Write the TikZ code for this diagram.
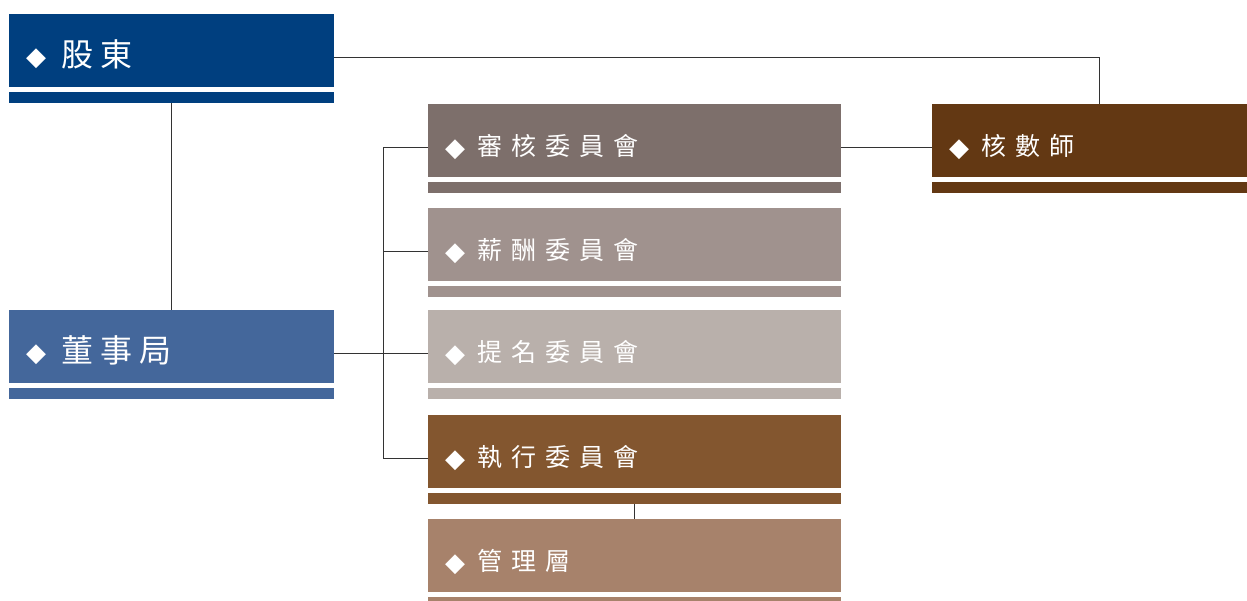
\documentclass[tikz,border=0pt]{standalone}
\usepackage{fontspec}
\newfontfamily\cjk{Noto Sans CJK TC}
\newfontfamily\symfont{DejaVu Sans}
\definecolor{shcol}{HTML}{003F7F}
\definecolor{bdcol}{HTML}{44679B}
\definecolor{audcol}{HTML}{7D6F6B}
\definecolor{remcol}{HTML}{A0928E}
\definecolor{nomcol}{HTML}{B9B0AB}
\definecolor{execol}{HTML}{83562F}
\definecolor{mgtcol}{HTML}{A7826B}
\definecolor{audrcol}{HTML}{633813}
\newcommand\dmd[1]{\raisebox{#1}{\symfont\fontsize{26pt}{26pt}\selectfont\char"25C6}}
\newcommand\bigtxt[1]{\raisebox{-4pt}[\height][\depth]{\dmd{1pt}\hspace{15pt}\cjk\fontsize{32pt}{32pt}\selectfont #1}}
\newcommand\smalltxt[1]{\raisebox{-6pt}[\height][\depth]{\dmd{-1pt}\hspace{12pt}\cjk\fontsize{25pt}{25pt}\selectfont #1}}
\newcommand\bg{\hspace{7pt}}
\newcommand\sg{\hspace{9pt}}
\tikzset{
  orgbox/.style={rectangle, anchor=north west, minimum height=73pt, inner xsep=17pt,
    inner ysep=0pt, text=white, align=left, fill=#1},
  link/.style={draw=black!80, line width=0.9pt},
}
\begin{document}
\begin{tikzpicture}[x=1pt,y=-1pt]
  \useasboundingbox (0,0) rectangle (1247,600);
  % boxes
  \node[orgbox=shcol, minimum width=325pt, text width=291pt] (sh) at (9,14) {\bigtxt{股\bg 東}};
  \node[orgbox=bdcol, minimum width=325pt, text width=291pt] (bd) at (9,310) {\bigtxt{董\bg 事\bg 局}};
  \node[orgbox=audcol, minimum width=413pt, text width=379pt] (aud) at (428,104) {\smalltxt{審\sg 核\sg 委\sg 員\sg 會}};
  \node[orgbox=remcol, minimum width=413pt, text width=379pt] (rem) at (428,208) {\smalltxt{薪\sg 酬\sg 委\sg 員\sg 會}};
  \node[orgbox=nomcol, minimum width=413pt, text width=379pt] (nom) at (428,310) {\smalltxt{提\sg 名\sg 委\sg 員\sg 會}};
  \node[orgbox=execol, minimum width=413pt, text width=379pt] (exe) at (428,415) {\smalltxt{執\sg 行\sg 委\sg 員\sg 會}};
  \node[orgbox=mgtcol, minimum width=413pt, text width=379pt] (mgt) at (428,519) {\smalltxt{管\sg 理\sg 層}};
  \node[orgbox=audrcol, minimum width=315pt, text width=281pt] (audr) at (932,104) {\smalltxt{核\sg 數\sg 師}};
  % bars under the boxes
  \foreach \n/\c in {sh/shcol, bd/bdcol, aud/audcol, rem/remcol, nom/nomcol, exe/execol, mgt/mgtcol, audr/audrcol} {%
    \fill[\c] ([yshift=-5pt]\n.south west) rectangle ([yshift=-16pt]\n.south east);
  }
  % connectors
  \coordinate (audtop) at ([xshift=10pt]audr.north);
  \draw[link] ([yshift=-7pt]sh.east) -| (audtop);
  \draw[link] ([yshift=-16pt]sh.south) -- (bd.north);
  \draw[link] ([yshift=-7pt]bd.east) -- ([yshift=-7pt]nom.west);
  \foreach \n in {aud, rem, nom, exe} {%
    \draw[link] ([yshift=-7pt]\n.west) -- ++(-45,0) coordinate (sp-\n);
  }
  \draw[link] (sp-aud) -- (sp-exe);
  \draw[link] ([yshift=-7pt]aud.east) -- ([yshift=-7pt]audr.west);
  \draw[link] ([yshift=-16pt]exe.south) -- (mgt.north);
\end{tikzpicture}
\end{document}
